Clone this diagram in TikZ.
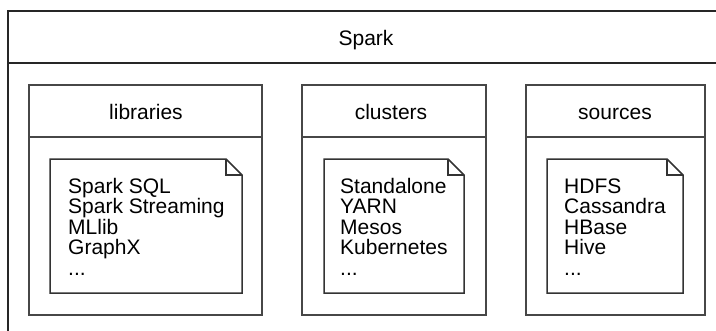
\documentclass[tikz,border=0pt]{standalone}
\usepackage{fontspec}
\setmainfont{Liberation Sans}
\begin{document}
\begin{tikzpicture}[x=1pt,y=-1pt,
    box/.style={draw=black!72, line width=1.5pt, rectangle, inner sep=0pt, outer sep=0pt},
    foglio/.style={rectangle, inner sep=0pt, outer sep=0pt},
    titolo/.style={font=\fontsize{21}{24}\selectfont, inner sep=0pt, anchor=base},
    lista/.style={font=\fontsize{21}{20.6}\selectfont, align=left, anchor=base west, inner sep=0pt}]
    \useasboundingbox (0,0) rectangle (716,330);

    % Riquadro esterno
    \draw[line width=2.2pt, black!85] (718,11) -- (8,11) -- (8,332);
    \draw[line width=2.2pt, black!85] (8,63) -- (718,63);
    \node[titolo] (spark) at (366,45.5) {Spark};

    % Riquadri
    \node[box, minimum width=233, minimum height=230] (libs) at (145.5,200) {};
    \node[box, minimum width=184, minimum height=230] (clus) at (394,200) {};
    \node[box, minimum width=179, minimum height=230] (srcs) at (615.5,200) {};
    \foreach \b in {libs,clus,srcs}
      \draw[black!72, line width=1.5pt] ([yshift=-52pt]\b.north west) -- ([yshift=-52pt]\b.north east);

    \node[titolo] (tlibs) at (146,119.5) {libraries};
    \node[titolo] (tclus) at (391,119.5) {clusters};
    \node[titolo] (tsrcs) at (615,119.5) {sources};

    % Fogli
    \node[foglio, minimum width=192, minimum height=134] (nlibs) at (146,226) {};
    \node[foglio, minimum width=140, minimum height=134] (nclus) at (394,226) {};
    \node[foglio, minimum width=136, minimum height=134] (nsrcs) at (615,226) {};
    \foreach \n in {nlibs,nclus,nsrcs} {
      \draw[black!80, line width=1.5pt, line join=miter] (\n.north west) -- ([xshift=-16pt]\n.north east)
        -- ([yshift=-16pt]\n.north east) -- (\n.south east) -- (\n.south west) -- cycle;
      \draw[black!80, line width=1.5pt] ([xshift=-16pt]\n.north east) |- ([yshift=-16pt]\n.north east);
    }

    % Elenchi (base = ultima riga)
    \node[lista] (llibs) at (68,275.4) {Spark SQL\\Spark Streaming\\MLlib\\GraphX\\...};
    \node[lista] (lclus) at (340,275.4) {Standalone\\YARN\\Mesos\\Kubernetes\\...};
    \node[lista] (lsrcs) at (564,275.4) {HDFS\\Cassandra\\HBase\\Hive\\...};
  \end{tikzpicture}
\end{document}
